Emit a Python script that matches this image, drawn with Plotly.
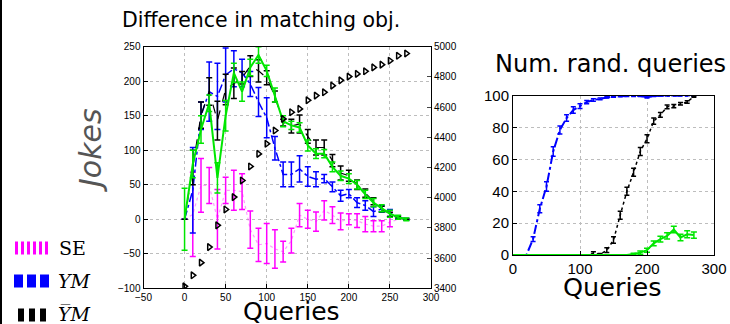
import plotly.graph_objects as go

# ---------------- data: left chart ----------------
queries = [0, 10, 20, 30, 40, 50, 60, 70, 80, 90, 100, 110, 120, 130, 140,
           150, 160, 170, 180, 190, 200, 210, 220, 230, 240, 250, 260, 270]

green_val = [0, 80, 130, 168, 60, 150, 212, 185, 220, 238, 215, 180, 142, 136, 133,
             107, 95, 95, 76, 63, 59, 50, 36, 24, 16, 8, 3, 0]
green_err = [45, 20, 20, 12, 22, 22, 14, 14, 12, 12, 8, 10, 8, 6, 7,
             8, 7, 6, 7, 7, 7, 6, 6, 6, 5, 5, 3, 2]

ybarm_val = [0, 75, 151, 185, 143, 188, 197, 205, 222, 215, 205, 178, 140, 135, 138,
             120, 104, 104, 85, 67, 63, 50, 38, 26, 15, 7, 2, 0]
ybarm_err = [0, 25, 19, 20, 28, 22, 22, 9, 15, 16, 10, 8, 5, 10, 13,
             10, 11, 11, 9, 10, 8, 7, 6, 5, 4, 3, 2, 1]

ym_val = [0, 42, 150, 185, 178, 209, 218, 212, 196, 170, 147, 103, 65, 65, 73,
          62, 58, 59, 47, 34, 37, 24, 20, 11, 15, 9, 3, 0]
ym_err = [0, 62, 20, 43, 48, 39, 26, 20, 18, 21, 29, 17, 18, 18, 19,
          14, 11, 6, 7, 8, 6, 7, 7, 7, 5, 5, 2, 1]

se_val = [0, 7, 49, 49, 0, 42, 42, 40, -15, -37, -35, -43, -47, -31, 6,
          0, -3.5, 13, 6, -3, 0, -2, -7, -10, -10, -4, 0, 0]
se_err = [0, 61, 39, 26, 43, 19, 29, 26, 27, 24, 29, 28, 15, 18, 17,
          13, 14, 14, 12, 12, 8, 10, 11, 8, 8, 7, 0, 0]

objective = [3413, 3486, 3570, 3673, 3817, 3922, 4004, 4114, 4207, 4290, 4357, 4445,
             4522, 4566, 4588, 4645, 4676, 4698, 4742, 4777, 4802, 4820, 4837, 4863,
             4881, 4907, 4940, 4955]

# ---------------- data: right chart ----------------
rand_ym = [0, 0, 0, 10, 29, 43, 65, 78.5, 86, 91, 93.5, 96, 97.3, 98, 99,
           99.5, 99.7, 99.8, 99.8, 99.8, 99, 99.8, 100, 100, 100, 100, 100, 100]
rand_ym_err = [0, 0, 0, 1.5, 2.5, 3, 3, 2.5, 2, 2, 1.5, 1, 0.8, 0.6, 0.5,
               0.4, 0.3, 0.3, 0.3, 0.3, 0.5, 0.3, 0.2, 0.2, 0.1, 0.1, 0.1, 0.1]
rand_ybarm = [0, 0, 0, 0, 0, 0, 0, 0, 0, 0, 0, 0, 1, 0.5, 3,
              9.4, 25, 40, 52, 65, 73, 84, 88, 93, 93.5, 95, 96, 99.5]
rand_ybarm_err = [0, 0, 0, 0, 0, 0, 0, 0, 0, 0, 0, 0, 1, 0.5, 1.5,
                  2, 2.5, 2.5, 2.5, 2.5, 2.5, 2, 1.5, 1.2, 1, 0.8, 0.8, 0.5]
rand_green = [0, 0, 0, 0, 0, 0, 0, 0, 0, 0, 0, 0, 0, 0, 0,
              0, 0, 0, 0.6, 1.5, 3, 7.3, 10, 12, 16, 11, 13, 12.5]
rand_green_err = [0, 0, 0, 0, 0, 0, 0, 0, 0, 0, 0, 0, 0, 0, 0,
                  0, 0, 0, 0.5, 1, 1.2, 1.5, 1.8, 2, 2, 2, 2.2, 2]

W, H = 730, 324
def px(x):
    return x / W
def py(y):
    return 1 - y / H

MAG, BLUE, BLACK, GREEN = "#ff00ff", "#0000ff", "#000000", "#00e600"

fig = go.Figure()

def eb(err, color, w=3, t=1.5):
    return dict(type="data", array=err, visible=True, color=color, width=w, thickness=t)

# left chart traces
fig.add_trace(go.Scatter(x=queries, y=objective, mode="markers", xaxis="x", yaxis="y2",
                         marker=dict(symbol="triangle-right-open", size=6, color=BLACK,
                                     line=dict(width=1.5, color=BLACK)), showlegend=False))
fig.add_trace(go.Scatter(x=queries, y=se_val, mode="lines", xaxis="x", yaxis="y",
                         line=dict(color="rgba(255,0,255,0.4)", width=1.2, dash="dot"),
                         error_y=eb(se_err, MAG), showlegend=False))
fig.add_trace(go.Scatter(x=queries, y=ym_val, mode="lines", xaxis="x", yaxis="y",
                         line=dict(color=BLUE, width=1.5, dash="dashdot"),
                         error_y=eb(ym_err, BLUE), showlegend=False))
fig.add_trace(go.Scatter(x=queries, y=ybarm_val, mode="lines", xaxis="x", yaxis="y",
                         line=dict(color=BLACK, width=1.2, dash="dash"),
                         error_y=eb(ybarm_err, BLACK), showlegend=False))
fig.add_trace(go.Scatter(x=queries, y=green_val, mode="lines", xaxis="x", yaxis="y",
                         line=dict(color=GREEN, width=2),
                         error_y=eb(green_err, GREEN), showlegend=False))

# right chart traces
fig.add_trace(go.Scatter(x=queries, y=rand_ym, mode="lines", xaxis="x2", yaxis="y3",
                         line=dict(color=BLUE, width=2, dash="dashdot"),
                         error_y=eb(rand_ym_err, BLUE, 2.5, 1.5), showlegend=False))
fig.add_trace(go.Scatter(x=queries, y=rand_ybarm, mode="lines", xaxis="x2", yaxis="y3",
                         line=dict(color=BLACK, width=1.5, dash="dot"),
                         error_y=eb(rand_ybarm_err, BLACK, 2.5, 1.5), showlegend=False))
fig.add_trace(go.Scatter(x=queries, y=rand_green, mode="lines", xaxis="x2", yaxis="y3",
                         line=dict(color=GREEN, width=2),
                         error_y=eb(rand_green_err, GREEN, 3, 1.5), showlegend=False))

ax_common = dict(showline=True, linecolor="black", linewidth=1, mirror=True,
                 ticks="inside", ticklen=4, tickcolor="black",
                 showgrid=True, gridcolor="#bdbdbd", griddash="dot", gridwidth=1,
                 zeroline=False, automargin=False)
small_font = dict(family="Liberation Sans, Arial", size=10, color="black")
big_font = dict(family="Liberation Sans, Arial", size=15, color="black")

fig.update_layout(
    template="none",
    width=W, height=H, margin=dict(l=0, r=0, t=0, b=0, pad=0),
    paper_bgcolor="white", plot_bgcolor="white", showlegend=False,
    xaxis=dict(domain=[px(143.5), px(431)], range=[-50, 300], tickvals=list(range(-50, 301, 50)),
               anchor="y", tickfont=small_font, **ax_common),
    yaxis=dict(domain=[py(288.3), py(46.7)], range=[-100, 250], tickvals=list(range(-100, 251, 50)),
               anchor="x", tickfont=small_font, **ax_common),
    yaxis2=dict(overlaying="y", side="right", anchor="x", range=[3400, 5000],
                tickvals=list(range(3400, 5001, 200)), showgrid=False, zeroline=False,
                showline=True, linecolor="black", ticks="inside", ticklen=4,
                tickfont=small_font, automargin=False),
    xaxis2=dict(domain=[px(513), px(714)], range=[0, 300], tickvals=[0, 100, 200, 300],
                anchor="y3", tickfont=big_font, **ax_common),
    yaxis3=dict(domain=[py(255), py(95.7)], range=[0, 100], tickvals=[0, 20, 40, 60, 80, 100],
                anchor="x2", tickfont=big_font, **ax_common),
)

anns = [
    dict(text="Difference in matching obj.", x=px(261), y=py(20),
         font=dict(family="DejaVu Sans", size=20.5, color="black")),
    dict(text="Num. rand. queries", x=px(610), y=py(64),
         font=dict(family="DejaVu Sans", size=24, color="black")),
    dict(text="Queries", x=px(291), y=py(311), font=dict(family="DejaVu Sans", size=25, color="black")),
    dict(text="Queries", x=px(612), y=py(287), font=dict(family="DejaVu Sans", size=25.5, color="black")),
    dict(text="<i>Jokes</i>", x=px(90), y=py(150), textangle=-90,
         font=dict(family="DejaVu Sans", size=30, color="#555555")),
    dict(text="SE", x=px(57), y=py(248), xanchor="left",
         font=dict(family="DejaVu Serif", size=19, color="black")),
    dict(text="<i>YM</i>", x=px(56), y=py(281), xanchor="left",
         font=dict(family="DejaVu Serif", size=19, color="black")),
    dict(text="<i>Y\u0305M</i>", x=px(56), y=py(314), xanchor="left",
         font=dict(family="DejaVu Serif", size=19, color="black")),
]
for a in anns:
    a.setdefault("xanchor", "center")
    fig.add_annotation(xref="paper", yref="paper", showarrow=False, yanchor="middle", **a)

shapes = [
    dict(type="line", xref="paper", yref="paper", x0=px(1), x1=px(1), y0=0, y1=1,
         line=dict(color="black", width=2)),
    dict(type="line", xref="paper", yref="paper", x0=px(15), x1=px(50), y0=py(248), y1=py(248),
         line=dict(color=MAG, width=13, dash="3px,3px")),
    dict(type="line", xref="paper", yref="paper", x0=px(14), x1=px(52), y0=py(281), y1=py(281),
         line=dict(color=BLUE, width=13, dash="9px,4px")),
    dict(type="line", xref="paper", yref="paper", x0=px(18), x1=px(46), y0=py(315), y1=py(315),
         line=dict(color=BLACK, width=13, dash="6px,5px")),
]
for s in shapes:
    fig.add_shape(**s)

fig.write_html("out.html", config={"displayModeBar": False},
               post_script="document.body.style.margin='0px';document.body.style.overflow='hidden';")
